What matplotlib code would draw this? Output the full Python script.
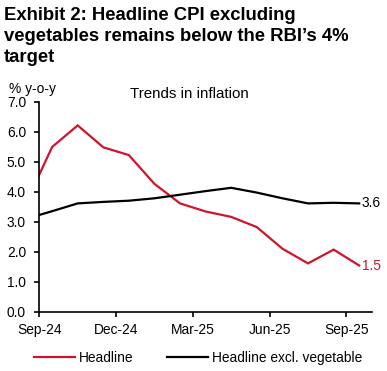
import matplotlib
matplotlib.use("Agg")
import matplotlib.pyplot as plt

plt.rcParams['font.family'] = ['Liberation Sans', 'DejaVu Sans']

months = ["Aug-24", "Sep-24", "Oct-24", "Nov-24", "Dec-24", "Jan-25", "Feb-25",
          "Mar-25", "Apr-25", "May-25", "Jun-25", "Jul-25", "Aug-25", "Sep-25"]
headline = [3.65, 5.49, 6.21, 5.48, 5.22, 4.26, 3.61, 3.34, 3.16, 2.82, 2.10, 1.61, 2.07, 1.54]
headline_ex_veg = [3.10, 3.35, 3.61, 3.66, 3.70, 3.78, 3.90, 4.02, 4.13, 3.97, 3.78, 3.61, 3.63, 3.61]
tick_labels = ["Sep-24", "Dec-24", "Mar-25", "Jun-25", "Sep-25"]
yticks = [0, 1, 2, 3, 4, 5, 6, 7]

RED = '#d0142c'
FS = 9.9
W, H = 387, 371
fig = plt.figure(figsize=(W / 100, H / 100), dpi=100)
ax = fig.add_axes([39.3 / W, 1 - 311.7 / H, (372 - 39.3) / W, (311.7 - 101.7) / H])

# month positions: data plotted mid-month, ticks at month starts (Sep-24 = 0)
x = [i - 0.5 for i in range(len(months))]
ax.plot(x, headline, color=RED, lw=1.6, label='Headline', solid_joinstyle='miter')
ax.plot(x, headline_ex_veg, color='black', lw=1.6, label='Headline excl. vegetable',
        solid_joinstyle='miter')

ax.set_xlim(0, 13)
ax.set_ylim(0, 7)
tick_pos = [months.index(t) - 1 for t in tick_labels]
ax.set_xticks(tick_pos)
ax.set_xticklabels(tick_labels)
ax.set_yticks(yticks)
ax.set_yticklabels([f"{v:.1f}" for v in yticks])

for s in ['top', 'right']:
    ax.spines[s].set_visible(False)
for s in ['left', 'bottom']:
    ax.spines[s].set_linewidth(1.2)
ax.tick_params(axis='both', direction='out', length=3.6, width=1.2, labelsize=FS, colors='black')
ax.tick_params(axis='y', pad=6)
ax.tick_params(axis='x', pad=4.5)

ax.annotate(f"{headline_ex_veg[-1]:.1f}", (x[-1], headline_ex_veg[-1]), xytext=(2, 0),
            textcoords='offset points', va='center', ha='left', fontsize=FS, color='black',
            annotation_clip=False)
ax.annotate(f"{headline[-1]:.1f}", (x[-1], headline[-1]), xytext=(2, 0),
            textcoords='offset points', va='center', ha='left', fontsize=FS, color=RED,
            annotation_clip=False)

# Title lines
title_lines = ["Exhibit 2: Headline CPI excluding",
               "vegetables remains below the RBI\u2019s 4%",
               "target"]
for line, yb in zip(title_lines, [19.5, 41, 62]):
    fig.text(4 / W, 1 - yb / H, line, fontsize=13.3, fontweight='bold', va='baseline', ha='left')

fig.text(9 / W, 1 - 93 / H, "% y-o-y", fontsize=FS, va='baseline', ha='left')
fig.text(130 / W, 1 - 98.3 / H, "Trends in inflation", fontsize=10.9, va='baseline', ha='left')

leg = fig.legend(loc='center', bbox_to_anchor=(198 / W, 1 - 358 / H), ncol=2, frameon=False,
                 fontsize=FS, handlelength=3.0, handletextpad=0.3, columnspacing=2.4,
                 borderpad=0, borderaxespad=0)

fig.savefig("out.png", dpi=100)
